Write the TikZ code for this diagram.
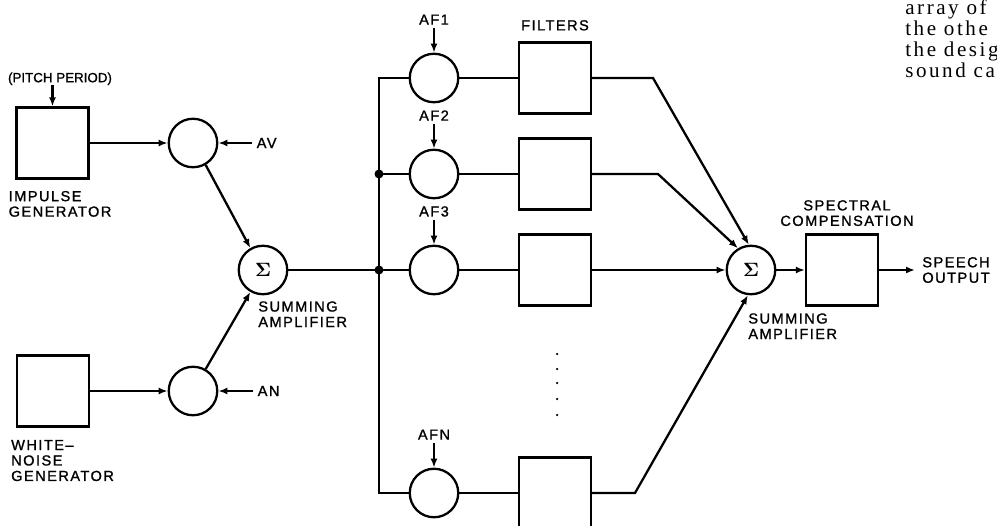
\documentclass[tikz,border=0pt]{standalone}
\usepackage{fontspec}
\usepackage{tikz}
\usetikzlibrary{arrows.meta, positioning, calc}
\newfontfamily\lblfont{Liberation Sans}[LetterSpace=10, FakeBold=1.2]
\newfontfamily\lblnarrow{Liberation Sans}[FakeBold=1.2]
\newfontfamily\txtfont{Liberation Serif}[LetterSpace=12]
\tikzset{
  blk/.style={draw, line width=1.3pt, minimum width=1.44cm, minimum height=1.42cm, inner sep=0pt},
  mult/.style={draw, circle, line width=1.3pt, minimum size=0.97cm, inner sep=0pt},
  sigma/.style={mult, font=\fontsize{11}{11}\selectfont\boldmath},
  lbl/.style={font=\lblfont\fontsize{8.3}{8.8}\selectfont, inner sep=0pt, align=left},
  txt/.style={font=\txtfont\fontsize{12}{14}\selectfont, inner sep=0pt},
  wire/.style={line width=1.3pt},
  sig/.style={wire, -{Latex[length=1.8mm,width=1.4mm]}}
}

\begin{document}
\begin{tikzpicture}
\useasboundingbox (0,0) rectangle (19.94,10.5);
\clip (0,0) rectangle (19.94,10.5);
% sources
\node[blk] (imp) at (1.05,7.64) {};
\node[blk] (wn) at (1.06,2.68) {};
\node[lbl, font=\lblnarrow\fontsize{7.6}{8}\selectfont, above=0.42cm of imp.north, xshift=0.15cm] (pitch) {(PITCH PERIOD)};
\node[lbl, below=0.22cm of imp.south west, anchor=north west, xshift=-0.14cm] (implbl) {IMPULSE\\GENERATOR};
\node[lbl, below=0.24cm of wn.south west, anchor=north west, xshift=-0.1cm] (wnlbl) {WHITE–\\NOISE\\GENERATOR};
\node[mult] (av) at (3.86,7.64) {};
\node[mult] (an) at (3.86,2.68) {};
\node[lbl, anchor=west, inner sep=2.5pt] (avin) at (5.04,7.64) {AV};
\node[lbl, anchor=west, inner sep=2.5pt] (anin) at (5.06,2.68) {AN};
\node[sigma] (sum1) at (5.26,5.1) {$\Sigma$};
\node[lbl, anchor=north west] (s1lbl) at (5.16,4.48) {SUMMING\\AMPLIFIER};
\draw[sig] (pitch.south -| imp.north) -- (imp.north);
\draw[sig] (imp) -- (av);
\draw[sig] (wn) -- (an);
\draw[sig] (avin) -- (av);
\draw[sig] (anin) -- (an);
\draw[sig] (av.-60) -- (sum1.120);
\draw[sig] (an.60) -- (sum1.240);
% bus and channels
\coordinate (btop) at (7.58,8.94);
\coordinate (j2) at (7.58,7.02);
\coordinate (j3) at (7.58,5.1);
\coordinate (bbot) at (7.58,0.64);
\foreach \k/\y/\t in {1/8.94/AF1, 2/7.02/AF2, 3/5.1/AF3, n/0.64/AFN} {
  \node[mult] (af\k) at (8.68,\y) {};
  \node[blk] (f\k) at (11.1,\y) {};
  \node[lbl, inner sep=1.5pt, above=0.5cm of af\k] (l\k) {\t};
  \draw[sig] (l\k) -- (af\k);
  \draw[wire] (af\k) -- (f\k);
}
\node[lbl, above=0.21cm of f1] (filt) {FILTERS};
\draw[wire] (sum1) -- (j3);
\draw[wire] (af1) -- (btop) -- (bbot) -- (afn);
\draw[wire] (j2) -- (af2);
\draw[wire] (j3) -- (af3);
\fill (j2) circle (0.09);
\fill (j3) circle (0.09);
\foreach \y in {3.42,3.12,2.84,2.52,2.2} \fill (11.14,\y) circle (0.025);
% output summing and compensation
\node[sigma] (sum2) at (15.02,5.1) {$\Sigma$};
\node[blk] (spec) at (16.84,5.1) {};
\coordinate (out) at (18.3,5.1);
\node[lbl, anchor=west, align=center] (outlbl) at (18.44,5.1) {SPEECH\\OUTPUT};
\node[lbl, align=center, above=0.14cm of spec, xshift=0.1cm] (speclbl) {SPECTRAL\\COMPENSATION};
\node[lbl, anchor=north west] (s2lbl) at (14.96,4.24) {SUMMING\\AMPLIFIER};
\coordinate (k1) at (13.06,8.94);
\coordinate (k2) at (13.16,7.02);
\coordinate (kn) at (12.7,0.64);
\draw[sig] (f1) -- (k1) -- (sum2.95);
\draw[sig] (f2) -- (k2) -- (sum2.121);
\draw[sig] (f3) -- (sum2);
\draw[sig] (fn) -- (kn) -- (sum2.263);
\draw[sig] (sum2) -- (spec);
\draw[sig] (spec) -- (out);
% running text at the margin
\node[txt, anchor=base west] (tx1) at (18.1,10.2) {array of};
\node[txt, anchor=base west] (tx2) at (18.1,9.78) {the othe};
\node[txt, anchor=base west] (tx3) at (18.1,9.36) {the desig};
\node[txt, anchor=base west] (tx4) at (18.1,8.94) {sound ca};
\end{tikzpicture}
\end{document}
